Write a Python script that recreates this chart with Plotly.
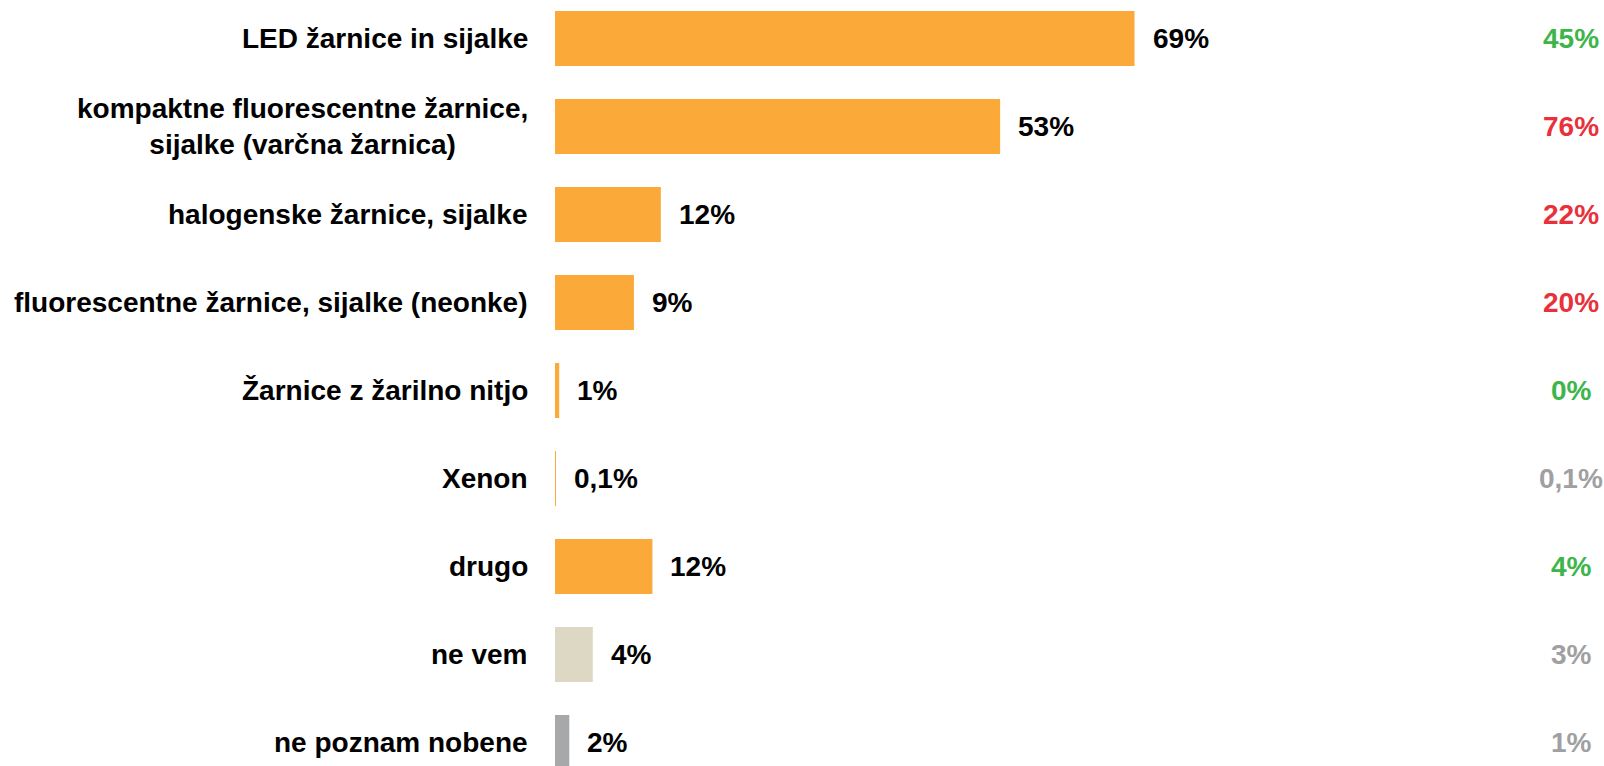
import plotly.graph_objects as go

categories = [
    "LED žarnice in sijalke",
    "kompaktne fluorescentne žarnice,<br>sijalke (varčna žarnica)",
    "halogenske žarnice, sijalke",
    "fluorescentne žarnice, sijalke (neonke)",
    "Žarnice z žarilno nitjo",
    "Xenon",
    "drugo",
    "ne vem",
    "ne poznam nobene",
]
values = [69, 53, 12.6, 9.4, 0.5, 0.1, 11.6, 4.5, 1.7]
value_labels = ["69%", "53%", "12%", "9%", "1%", "0,1%", "12%", "4%", "2%"]
bar_colors = ["#FBAA3A"] * 7 + ["#DDD8C4", "#A7A8AA"]

prev_labels = ["45%", "76%", "22%", "20%", "0%", "0,1%", "4%", "3%", "1%"]
prev_colors = ["#3DB54A", "#E8313A", "#E8313A", "#E8313A", "#3DB54A",
               "#A0A0A2", "#3DB54A", "#A0A0A2", "#A0A0A2"]

FONT = "Liberation Sans, Arial, sans-serif"
FS = 28

ypos = list(range(len(categories)))

fig = go.Figure(go.Bar(
    x=values, y=ypos, orientation="h",
    marker=dict(color=bar_colors, line=dict(width=0)),
    width=0.625, hoverinfo="skip",
))

ann = []
for i, (c, v, lab, pl, pc) in enumerate(zip(categories, values, value_labels, prev_labels, prev_colors)):
    ann.append(dict(x=0, xref="paper", y=i, yref="y", text=c, showarrow=False,
                    xanchor="right", yanchor="middle", xshift=-25, align="center",
                    font=dict(family=FONT, size=FS, color="#000000", weight="bold")))
    ann.append(dict(x=v, xref="x", y=i, yref="y", text=lab, showarrow=False,
                    xanchor="left", yanchor="middle", xshift=16,
                    font=dict(family=FONT, size=FS, color="#000000", weight="bold")))
    ann.append(dict(x=0.9686, xref="paper", y=i, yref="y", text=pl, showarrow=False,
                    xanchor="center", yanchor="middle",
                    font=dict(family=FONT, size=FS, color=pc, weight="bold")))

fig.update_layout(
    width=1604, height=766,
    margin=dict(l=555, r=0, t=0, b=0),
    paper_bgcolor="white", plot_bgcolor="white",
    showlegend=False,
    xaxis=dict(range=[0, 124.9], visible=False, fixedrange=True),
    yaxis=dict(range=[8.267, -0.4375], visible=False, fixedrange=True),
    annotations=ann,
)

fig.write_html(
    "out.html",
    config={"displayModeBar": False},
    post_script="document.body.style.margin='0';document.body.style.overflow='hidden';",
)
